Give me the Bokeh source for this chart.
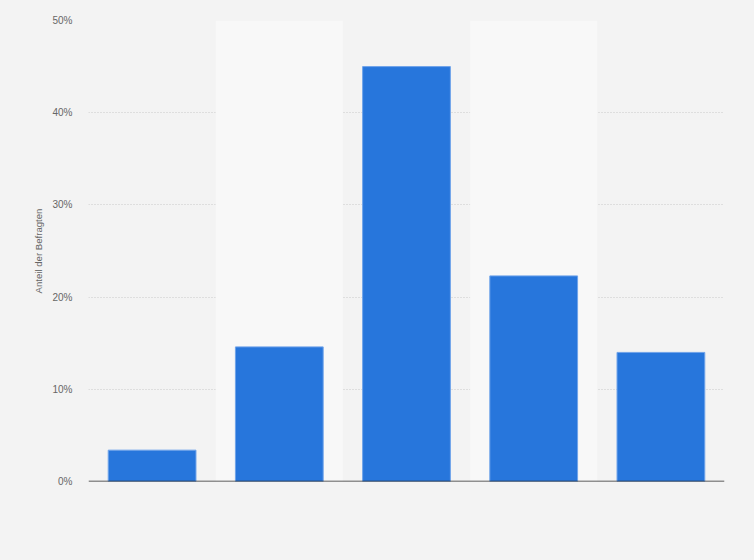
from bokeh.plotting import figure
from bokeh.models import Range1d, FactorRange, FixedTicker, PrintfTickFormatter, Span
from bokeh.embed import file_html
from bokeh.resources import INLINE

# Data
categories = ["Kategorie 1", "Kategorie 2", "Kategorie 3", "Kategorie 4", "Kategorie 5"]
values = [3.4, 14.6, 45.0, 22.3, 14.0]
y_ticks = [0, 10, 20, 30, 40, 50]
band_categories = ["Kategorie 2", "Kategorie 4"]
y_max = 50

BG = "#f3f3f3"

p = figure(
    x_range=FactorRange(*categories, range_padding=0),
    y_range=Range1d(0, y_max),
    width=738, height=544,
    output_backend="svg", toolbar_location=None,
    min_border_left=88, min_border_right=14, min_border_top=20, min_border_bottom=63,
)
p.background_fill_color = BG
p.border_fill_color = BG
p.outline_line_color = None

# alternating bands
p.vbar(x=band_categories, top=[y_max] * len(band_categories), bottom=0, width=1.0,
       fill_color="#f8f8f8", line_color=None)

p.xgrid.visible = False
p.ygrid.grid_line_color = "#c8c8c8"
p.ygrid.grid_line_dash = "1 2"
p.ygrid.grid_line_width = 1

p.vbar(x=categories, top=values, bottom=0, width=0.69,
       fill_color="#2776dc", line_color="#6fa3ea", line_width=1)

# x axis: only the baseline
p.xaxis.visible = False
p.add_layout(Span(location=0, dimension="width", line_color="#2b2b2b", line_width=1.5))

# y axis
p.yaxis.ticker = FixedTicker(ticks=y_ticks)
p.yaxis.formatter = PrintfTickFormatter(format="%d%%")
p.yaxis.axis_line_color = None
p.yaxis.major_tick_line_color = None
p.yaxis.minor_tick_line_color = None
p.yaxis.major_label_standoff = 10
p.yaxis.major_label_text_font = "Liberation Sans"
p.yaxis.major_label_text_font_size = "10px"
p.yaxis.major_label_text_color = "#666666"
p.yaxis.axis_label = "Anteil der Befragten"
p.yaxis.axis_label_text_font = "Liberation Sans"
p.yaxis.axis_label_text_font_size = "9.6px"
p.yaxis.axis_label_text_font_style = "normal"
p.yaxis.axis_label_text_color = "#666666"
p.yaxis.axis_label_standoff = 5

html = file_html(p, INLINE)
html = html.replace("<body>", '<body style="background-color:#f3f3f3;">')
open("out.html", "w").write(html)
